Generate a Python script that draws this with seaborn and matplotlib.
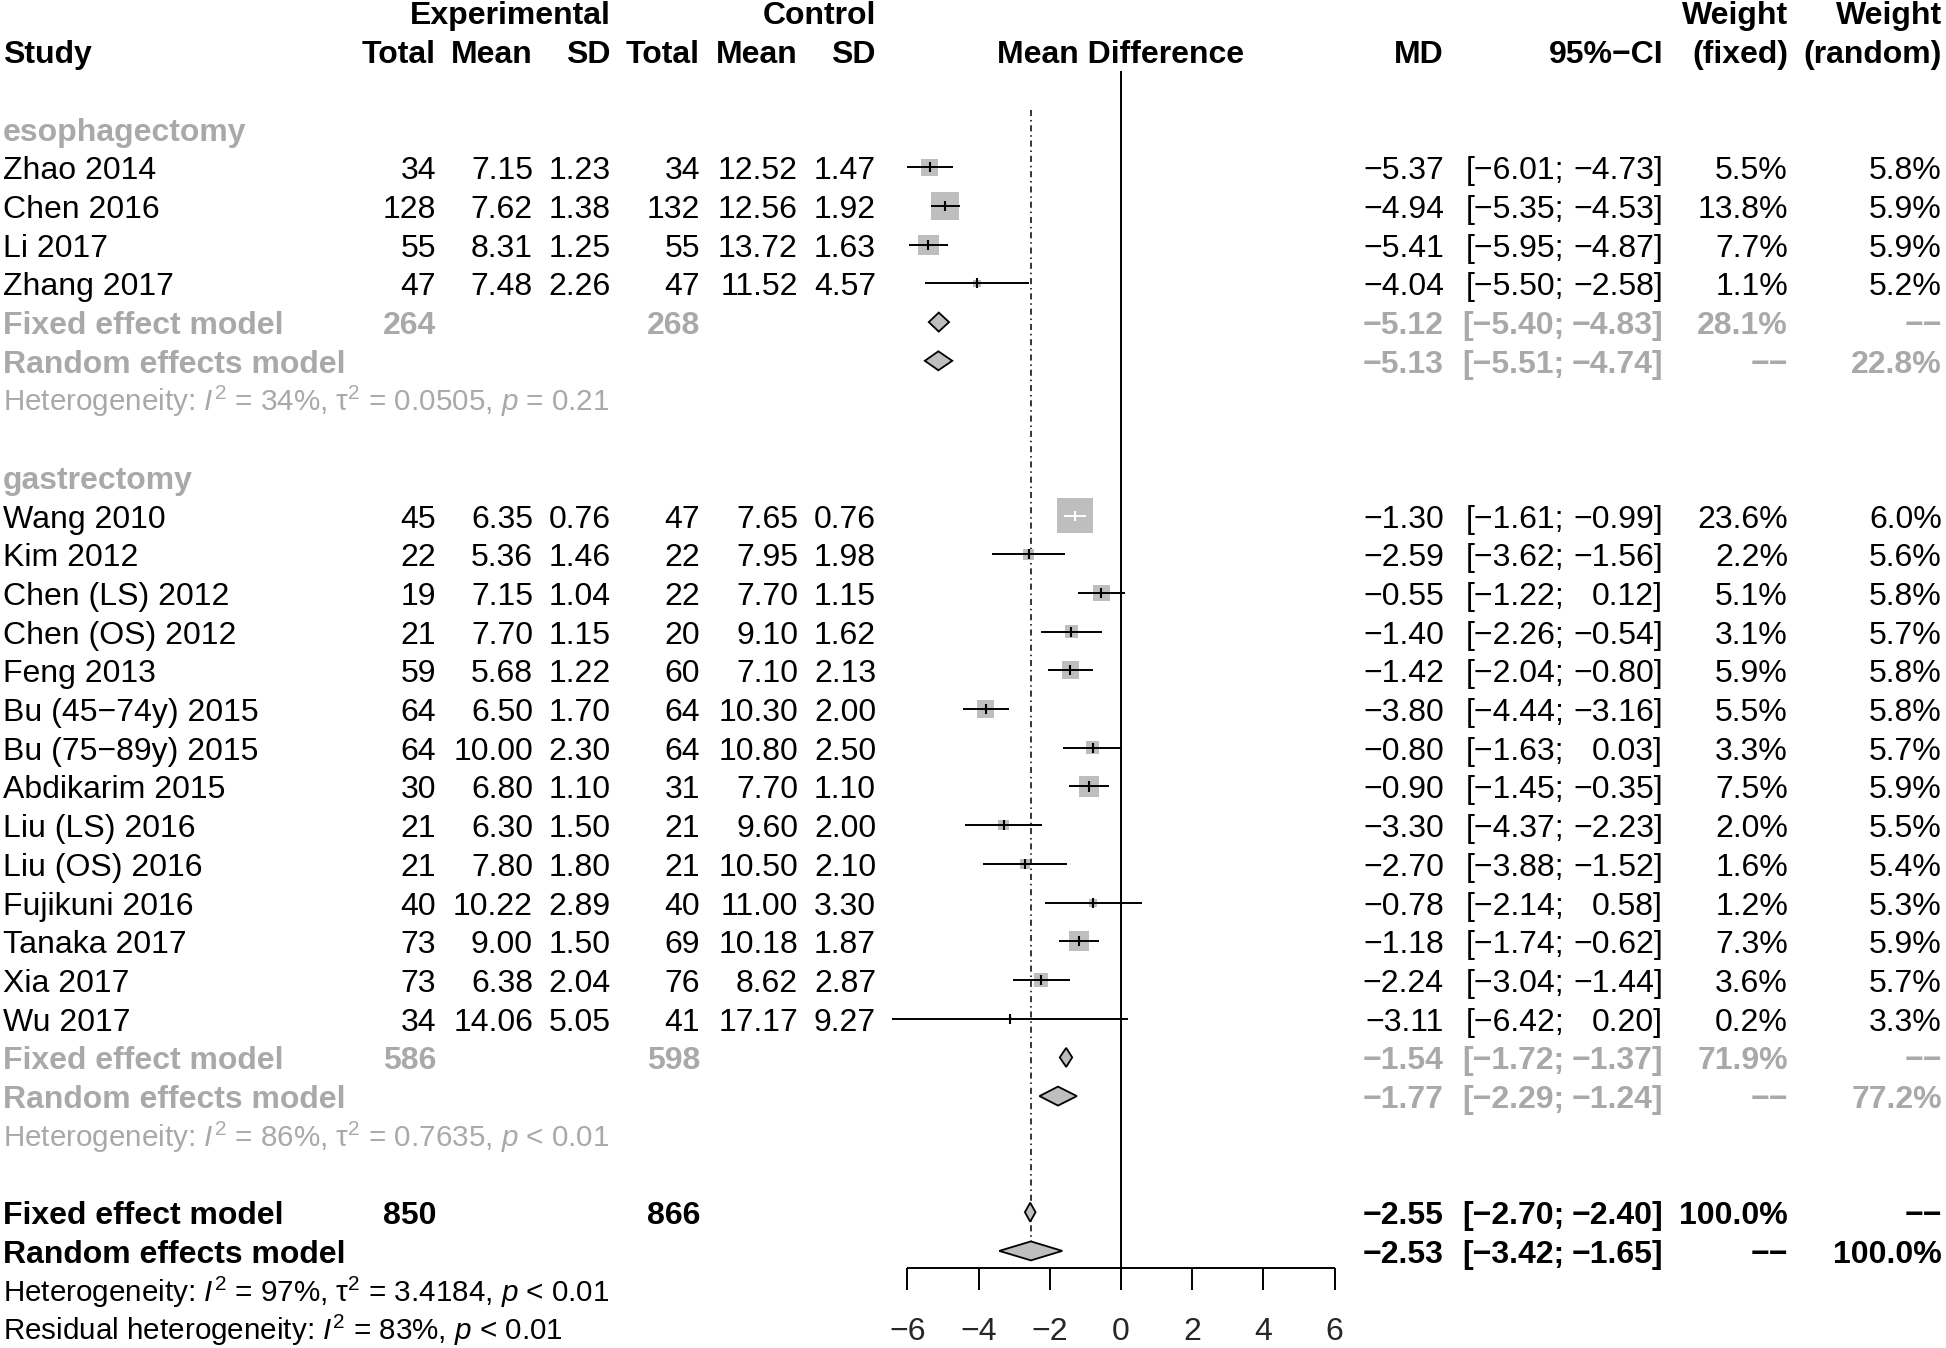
import numpy as np
import pandas as pd
import matplotlib
matplotlib.use("Agg")
import matplotlib.pyplot as plt
import matplotlib.transforms as mtransforms
from matplotlib.patches import Polygon
import seaborn as sns

# ---- data ----
subgroups = ["esophagectomy", "gastrectomy"]

study = ["Zhao 2014", "Chen 2016", "Li 2017", "Zhang 2017",
         "Wang 2010", "Kim 2012", "Chen (LS) 2012", "Chen (OS) 2012", "Feng 2013",
         "Bu (45\u221274y) 2015", "Bu (75\u221289y) 2015", "Abdikarim 2015", "Liu (LS) 2016",
         "Liu (OS) 2016", "Fujikuni 2016", "Tanaka 2017", "Xia 2017", "Wu 2017"]
group = ["esophagectomy"] * 4 + ["gastrectomy"] * 14
exp_n = [34, 128, 55, 47, 45, 22, 19, 21, 59, 64, 64, 30, 21, 21, 40, 73, 73, 34]
exp_mean = [7.15, 7.62, 8.31, 7.48, 6.35, 5.36, 7.15, 7.70, 5.68, 6.50, 10.00, 6.80, 6.30, 7.80, 10.22, 9.00, 6.38, 14.06]
exp_sd = [1.23, 1.38, 1.25, 2.26, 0.76, 1.46, 1.04, 1.15, 1.22, 1.70, 2.30, 1.10, 1.50, 1.80, 2.89, 1.50, 2.04, 5.05]
ctl_n = [34, 132, 55, 47, 47, 22, 22, 20, 60, 64, 64, 31, 21, 21, 40, 69, 76, 41]
ctl_mean = [12.52, 12.56, 13.72, 11.52, 7.65, 7.95, 7.70, 9.10, 7.10, 10.30, 10.80, 7.70, 9.60, 10.50, 11.00, 10.18, 8.62, 17.17]
ctl_sd = [1.47, 1.92, 1.63, 4.57, 0.76, 1.98, 1.15, 1.62, 2.13, 2.00, 2.50, 1.10, 2.00, 2.10, 3.30, 1.87, 2.87, 9.27]
md = [-5.37, -4.94, -5.41, -4.04, -1.30, -2.59, -0.55, -1.40, -1.42, -3.80, -0.80, -0.90, -3.30, -2.70, -0.78, -1.18, -2.24, -3.11]
ci_lo = [-6.01, -5.35, -5.95, -5.50, -1.61, -3.62, -1.22, -2.26, -2.04, -4.44, -1.63, -1.45, -4.37, -3.88, -2.14, -1.74, -3.04, -6.42]
ci_hi = [-4.73, -4.53, -4.87, -2.58, -0.99, -1.56, 0.12, -0.54, -0.80, -3.16, 0.03, -0.35, -2.23, -1.52, 0.58, -0.62, -1.44, 0.20]
w_fixed = [5.5, 13.8, 7.7, 1.1, 23.6, 2.2, 5.1, 3.1, 5.9, 5.5, 3.3, 7.5, 2.0, 1.6, 1.2, 7.3, 3.6, 0.2]
w_random = [5.8, 5.9, 5.9, 5.2, 6.0, 5.6, 5.8, 5.7, 5.8, 5.8, 5.7, 5.9, 5.5, 5.4, 5.3, 5.9, 5.7, 3.3]

sub_n_exp = [264, 586]
sub_n_ctl = [268, 598]
sub_fix_md = [-5.12, -1.54]
sub_fix_lo = [-5.40, -1.72]
sub_fix_hi = [-4.83, -1.37]
sub_fix_w = [28.1, 71.9]
sub_ran_md = [-5.13, -1.77]
sub_ran_lo = [-5.51, -2.29]
sub_ran_hi = [-4.74, -1.24]
sub_ran_w = [22.8, 77.2]
sub_i2 = ["34%", "86%"]
sub_tau2 = ["0.0505", "0.7635"]
sub_p = ["= 0.21", "< 0.01"]

all_n_exp, all_n_ctl = 850, 866
all_fix = [-2.55, -2.70, -2.40]
all_ran = [-2.53, -3.42, -1.65]
all_i2, all_tau2, all_p = "97%", "3.4184", "< 0.01"
resid_i2, resid_p = "83%", "< 0.01"

xticks = [-6, -4, -2, 0, 2, 4, 6]

df = pd.DataFrame(dict(study=study, group=group, exp_n=exp_n, exp_mean=exp_mean, exp_sd=exp_sd,
                       ctl_n=ctl_n, ctl_mean=ctl_mean, ctl_sd=ctl_sd, md=md, lo=ci_lo, hi=ci_hi,
                       wf=w_fixed, wr=w_random))

# ---- layout ----
W, H, DPI = 1946, 1348, 100
FS = 23
FS_HET = 21.3
ROW0, ROWH = 12.5, 38.7          # pixel centre of row 0, row height
X0, UNIT = 1121, 35.6            # pixel of MD = 0, pixels per MD unit
GRAY_TXT = "#A9A9A9"
GRAY_FILL = "#BEBEBE"
NA = "\u2212\u2212"

sns.set_style("white")
plt.rcParams["font.family"] = ["Liberation Sans", "DejaVu Sans"]
plt.rcParams["mathtext.fontset"] = "custom"
plt.rcParams["mathtext.rm"] = "Liberation Sans"
plt.rcParams["mathtext.it"] = "Liberation Sans:italic"
plt.rcParams["mathtext.bf"] = "Liberation Sans:bold"

fig = plt.figure(figsize=(W / DPI, H / DPI), dpi=DPI)
ax = fig.add_axes([0, 0, 1, 1])
ax.set_xlim((0 - X0) / UNIT, (W - X0) / UNIT)
ax.set_ylim((H - ROW0) / ROWH, -ROW0 / ROWH)
ax.axis("off")
tr = mtransforms.blended_transform_factory(fig.transFigure, ax.transData)


def fmt(v, d=2):
    return f"{v:.{d}f}".replace("-", "\u2212")


BASE = 12 / ROWH  # baseline offset below row centre


def put(px, row, s, ha="right", bold=False, color="black", size=FS):
    ax.text(px / W, row + BASE, s, transform=tr, ha=ha, va="baseline",
            fontsize=size, fontweight="bold" if bold else "normal", color=color)


# column right edges (pixels)
C_STUDY, C_EN, C_EM, C_ES, C_CN, C_CM, C_CS = 3, 436, 533, 611, 700, 798, 876
C_MD, C_CI, C_WF, C_WR = 1444, 1663, 1788, 1942
C_SEMI = C_CI - 3.086 * FS * DPI / 72


def ci_text(row, lo, hi, bold=False, color="black"):
    put(C_SEMI, row, "[" + fmt(lo) + ";", bold=bold, color=color)
    put(C_CI, row, fmt(hi) + "]", bold=bold, color=color)


# headers
put(C_ES, 0, "Experimental", bold=True)
put(C_CS, 0, "Control", bold=True)
put(C_WF, 0, "Weight", bold=True)
put(C_WR, 0, "Weight", bold=True)
put(C_STUDY, 1, "Study", ha="left", bold=True)
for c, s in [(C_EN, "Total"), (C_EM, "Mean"), (C_ES, "SD"), (C_CN, "Total"), (C_CM, "Mean"),
             (C_CS, "SD"), (C_MD, "MD"), (C_CI, "95%\u2212CI"), (C_WF, "(fixed)"), (C_WR, "(random)")]:
    put(c, 1, s, bold=True)
put(X0, 1, "Mean Difference", ha="center", bold=True)

# assign rows
rows = {}
r = 3
diamonds = []
for gi, g in enumerate(subgroups):
    put(C_STUDY, r, g, ha="left", bold=True, color=GRAY_TXT)
    r += 1
    for idx in df.index[df.group == g]:
        rows[idx] = r
        r += 1
    put(C_STUDY, r, "Fixed effect model", ha="left", bold=True, color=GRAY_TXT)
    put(C_EN, r, str(sub_n_exp[gi]), bold=True, color=GRAY_TXT)
    put(C_CN, r, str(sub_n_ctl[gi]), bold=True, color=GRAY_TXT)
    put(C_MD, r, fmt(sub_fix_md[gi]), bold=True, color=GRAY_TXT)
    ci_text(r, sub_fix_lo[gi], sub_fix_hi[gi], bold=True, color=GRAY_TXT)
    put(C_WF, r, fmt(sub_fix_w[gi], 1) + "%", bold=True, color=GRAY_TXT)
    put(C_WR, r, NA, bold=True, color=GRAY_TXT)
    diamonds.append((r, sub_fix_md[gi], sub_fix_lo[gi], sub_fix_hi[gi]))
    r += 1
    put(C_STUDY, r, "Random effects model", ha="left", bold=True, color=GRAY_TXT)
    put(C_MD, r, fmt(sub_ran_md[gi]), bold=True, color=GRAY_TXT)
    ci_text(r, sub_ran_lo[gi], sub_ran_hi[gi], bold=True, color=GRAY_TXT)
    put(C_WF, r, NA, bold=True, color=GRAY_TXT)
    put(C_WR, r, fmt(sub_ran_w[gi], 1) + "%", bold=True, color=GRAY_TXT)
    diamonds.append((r, sub_ran_md[gi], sub_ran_lo[gi], sub_ran_hi[gi]))
    r += 1
    put(C_STUDY, r, "Heterogeneity: $I^2$ = " + sub_i2[gi] + ", \u03c4$^2$ = " + sub_tau2[gi]
        + ", $p$ " + sub_p[gi], ha="left", color=GRAY_TXT, size=FS_HET)
    r += 2

# overall
put(C_STUDY, r, "Fixed effect model", ha="left", bold=True)
put(C_EN, r, str(all_n_exp), bold=True)
put(C_CN, r, str(all_n_ctl), bold=True)
put(C_MD, r, fmt(all_fix[0]), bold=True)
ci_text(r, all_fix[1], all_fix[2], bold=True)
put(C_WF, r, "100.0%", bold=True)
put(C_WR, r, NA, bold=True)
diamonds.append((r, *all_fix))
r += 1
put(C_STUDY, r, "Random effects model", ha="left", bold=True)
put(C_MD, r, fmt(all_ran[0]), bold=True)
ci_text(r, all_ran[1], all_ran[2], bold=True)
put(C_WF, r, NA, bold=True)
put(C_WR, r, "100.0%", bold=True)
diamonds.append((r, *all_ran))
row_ran = r
r += 1
put(C_STUDY, r, "Heterogeneity: $I^2$ = " + all_i2 + ", \u03c4$^2$ = " + all_tau2 + ", $p$ " + all_p,
    ha="left", size=FS_HET)
r += 1
put(C_STUDY, r, "Residual heterogeneity: $I^2$ = " + resid_i2 + ", $p$ " + resid_p, ha="left", size=FS_HET)

df["row"] = df.index.map(rows)

# study text
for _, d in df.iterrows():
    rr = d.row
    put(C_STUDY, rr, d.study, ha="left")
    put(C_EN, rr, str(d.exp_n))
    put(C_EM, rr, fmt(d.exp_mean))
    put(C_ES, rr, fmt(d.exp_sd))
    put(C_CN, rr, str(d.ctl_n))
    put(C_CM, rr, fmt(d.ctl_mean))
    put(C_CS, rr, fmt(d.ctl_sd))
    put(C_MD, rr, fmt(d.md))
    ci_text(rr, d.lo, d.hi)
    put(C_WF, rr, fmt(d.wf, 1) + "%")
    put(C_WR, rr, fmt(d.wr, 1) + "%")

# reference lines
axis_row = (1268 - ROW0) / ROWH
ax.vlines(0, (71 - ROW0) / ROWH, axis_row, color="black", lw=1.4)
ax.plot([all_ran[0], all_ran[0]], [(110 - ROW0) / ROWH, row_ran - 0.25], color="black",
        lw=1.1, dashes=(4, 2.5, 1, 2.5))

# squares sized by fixed weight (area ~ weight)
SCALE = 28
df["s"] = df.wf * SCALE
sns.scatterplot(data=df, x="md", y="row", size="wf", sizes=(df.s.min(), df.s.max()),
                size_norm=(df.wf.min(), df.wf.max()), marker="s", color=GRAY_FILL,
                linewidth=0, legend=False, ax=ax, zorder=3)

# CI lines and estimate ticks (white if hidden inside the square)
for _, d in df.iterrows():
    side_px = np.sqrt(d.s) * DPI / 72
    col = "white" if (d.hi - d.lo) * UNIT < side_px else "black"
    ax.hlines(d.row, d.lo, d.hi, color=col, lw=1.4, zorder=4)
    ax.vlines(d.md, d.row - 0.13, d.row + 0.13, color=col, lw=1.5, zorder=4)

# diamonds
HH = 9.5 / ROWH
for rr, est, lo, hi in diamonds:
    ax.add_patch(Polygon([(lo, rr), (est, rr - HH), (hi, rr), (est, rr + HH)], closed=True,
                         facecolor=GRAY_FILL, edgecolor="black", lw=1.3, zorder=4))

# x axis
tick_bot = (1290 - ROW0) / ROWH
ax.hlines(axis_row, xticks[0], xticks[-1], color="black", lw=1.4)
ax.vlines(xticks, axis_row, tick_bot, color="black", lw=1.4)
for t in xticks:
    ax.text(t, (1332 - ROW0) / ROWH, fmt(t, 0), ha="center", va="center", fontsize=FS)

fig.savefig("out.png", dpi=DPI)
